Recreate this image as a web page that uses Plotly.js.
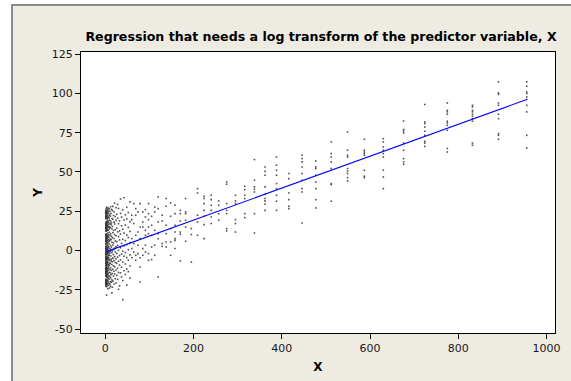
<!DOCTYPE html>
<html>
<head>
<meta charset="utf-8">
<script src="https://cdn.plot.ly/plotly-3.0.1.min.js"></script>
<style>
  html, body { margin: 0; padding: 0; background: #ffffff; }
  #frame { position: absolute; left: 11px; top: 4px; width: 600px; height: 420px;
           background: #EEEBE2; border-left: 2px solid #8a8a8a; border-top: 2px solid #8a8a8a; }
  #chart { position: absolute; left: 0; top: 0; width: 571px; height: 381px; }
</style>
</head>
<body>
<div id="frame"></div>
<div id="chart"></div>
<script>
const colX = [955, 891, 832, 775, 724, 676, 630, 587, 549, 512, 477, 446, 416, 388, 362, 338,
  316, 295, 275, 257, 240, 224, 209, 195, 182, 170, 158, 148, 138, 129, 120, 112, 105, 98, 91, 85,
  79, 74, 69, 64.6, 60,
  56.0, 52.2, 48.7, 45.5, 42.4, 39.6, 36.9, 34.5, 32.2, 30.0, 28.0, 26.1, 24.4, 22.7, 21.2, 19.8,
  18.5, 17.2, 16.1, 15.0, 14.0, 13.1, 12.2, 11.4, 10.6, 9.9, 9.24, 8.62, 8.04, 7.50, 7.00, 6.53,
  6.09, 5.69, 5.30, 4.95, 4.62, 4.31, 4.02, 3.75, 3.50, 3.26, 3.05, 2.84, 2.65, 2.47, 2.31, 2.15,
  2.01, 1.87, 1.75, 1.63, 1.52, 1.42, 1.32, 1.24, 1.15, 1.08, 1.0];

const colY = [
  [107.3, 104.5, 100.9, 99.9, 97.7, 96.1, 92.4, 88.2, 73.3, 65.3],
  [107.3, 100.3, 99.4, 93.9, 92.4, 86.7, 83.9, 74.4, 73.3, 70.8],
  [92.4, 91.3, 89.2, 88.2, 86.7, 85.4, 83.9, 82.3, 68.4, 67.0],
  [93.9, 89.2, 88.2, 86.7, 82.3, 81.2, 79.7, 76.5, 64.9, 62.7],
  [92.9, 81.8, 80.8, 78.6, 75.9, 73.3, 69.5, 68.4, 66.3],
  [82.4, 77.0, 76.1, 74.8, 68.4, 63.8, 58.5, 56.4, 54.9],
  [71.2, 69.1, 65.9, 63.8, 61.7, 59.5, 51.1, 46.8, 39.4],
  [70.8, 63.8, 62.7, 61.7, 60.6, 51.1, 47.3, 46.4],
  [75.4, 63.8, 60.6, 59.5, 52.2, 50.6, 49.0, 46.4, 44.3],
  [69.1, 61.7, 59.5, 56.4, 52.2, 42.6, 42.0, 31.4],
  [57.0, 53.2, 52.2, 47.9, 43.6, 39.4, 32.4, 27.1],
  [60.6, 58.5, 56.4, 53.2, 49.0, 44.7, 39.4, 37.3, 17.6],
  [49.0, 45.8, 36.6, 32.4, 28.2, 26.7],
  [59.5, 54.3, 51.1, 47.9, 42.6, 39.4, 35.2, 31.4, 25.6],
  [53.2, 50.4, 47.9, 40.5, 35.8, 33.1, 31.6, 29.5, 25.6],
  [57.9, 44.7, 40.5, 39.0, 37.3, 23.5, 11.2],
  [40.9, 38.8, 35.2, 33.1, 23.5, 21.0],
  [35.2, 31.6, 29.9, 19.7, 17.2, 11.8],
  [43.6, 42.2, 29.9, 25.6, 23.5, 14.0, 12.5],
  [31.6, 28.8, 23.5, 19.3],
  [35.2, 32.4, 28.8, 25.6, 21.4, 17.2],
  [34.5, 33.1, 29.9, 25.6, 21.8, 16.5, 7.6],
  [39.4, 36.6, 22.5, 18.2, 9.7],
  [14.0, 10.2, -7.3],
  [33.1, 24.6, 23.5, 19.3, 15.0, 5.9],
  [25.6, 23.5, 18.8, 11.8, 10.4, -6.6],
  [28.8, 23.5, 16.1, 11.8, 7.6, 6.5, 1.3],
  [30.3, 21.8, 14.0, 5.5, -3.0],
  [33.1, 28.2, 16.1, 10.8, 5.5, 2.3],
  [22.5, 18.8, 4.5, 2.7],
  [34.1, 26.7, 18.2, 10.8, 7.6, -16.8],
  [27.7, 24.6, 12.9, 3.4, -3.0],
  [21.8, 16.1, 9.7, 2.3, -5.7],
  [29.9, 23.5, 19.7, 15.0, 10.8, -1.9, -6.2],
  [26.1, 21.4, 12.9, 9.7, 3.4, -0.9],
  [24.6, 18.2, 15.0, 1.3, -3.0],
  [29.9, 15.0, 7.6, -4.5, -10.4, -20.0],
  [24.6, 11.8, 3.4, -1.9],
  [26.7, 22.5, 9.7, -3.0, -6.2],
  [29.9, 17.2, 4.5, -0.9],
  [22.5, 19.7, 7.6, 1.3, -4.5],
  [31.0, 18.4, 12.2, 5.1, -2.7, -9.8, -17.5],
  [24.2, 14.7, 8.3, 0.6, -6.1, -13.4],
  [27.5, 20.1, 9.9, 3.8, -4.4, -11.7, -21.9],
  [22.8, 16.3, 6.4, -1.2, -8.5, -15.2],
  [33.6, 19.5, 11.1, 2.9, -3.6, -12.8],
  [25.9, 13.6, 7.2, -0.4, -7.3, -19.1, -31.2],
  [21.3, 15.8, 4.6, -2.2, -10.6, -16.7],
  [32.8, 23.7, 10.5, 1.8, -5.9, -14.1],
  [18.9, 12.5, 6.8, -3.1, -9.2, -22.4],
  [26.8, 17.1, 8.9, 0.2, -6.8, -13.9, -24.6],
  [29.4, 20.6, 11.9, 3.3, -4.1, -11.2, -18.3],
  [23.1, 14.2, 5.7, -1.8, -8.1, -15.7],
  [27.3, 19.2, 9.4, 2.4, -5.2, -12.3, -20.6],
  [21.7, 13.3, 6.1, -0.9, -7.6, -17.9],
  [30.2, 16.9, 10.2, 1.5, -3.9, -10.4, -14.8],
  [24.7, 18.1, 7.7, 0.8, -6.4, -13.1, -21.2],
  [22.3, 12.8, 4.9, -2.6, -9.7, -16.2],
  [28.1, 19.9, 11.4, 3.6, -4.8, -11.9, -19.4],
  [25.5, 15.4, 8.2, -0.2, -7.1, -14.6, -23.3],
  [20.4, 13.9, 5.3, -1.4, -8.8, -18.6, -26.9],
  [26.2, 17.6, 9.1, 2.1, -5.5, -12.6, -20.1],
  [23.6, 16.4, 6.9, 0.4, -6.7, -15.3],
  [27.9, 18.8, 10.7, 3.1, -3.4, -10.9, -17.2, -22.8],
  [21.9, 14.5, 7.4, -0.7, -8.3, -14.2, -19.8],
  [24.9, 17.3, 9.8, 1.2, -5.7, -12.1, -21.5],
  [22.6, 15.1, 6.3, -1.6, -7.9, -16.4],
  [26.5, 19.4, 11.6, 4.2, -2.9, -9.5, -18.1, -23.8],
  [20.8, 13.7, 5.9, -0.3, -6.2, -13.8],
  [25.1, 16.7, 8.6, 1.9, -4.6, -11.4, -20.7],
  [23.4, 14.9, 7.1, -1.1, -8.7, -15.9, -22.1],
  [27.1, 18.3, 10.1, 2.7, -3.2, -10.2, -17.6],
  [21.4, 12.9, 4.8, -2.4, -9.1, -14.9],
  [24.3, 17.8, 9.3, 0.9, -5.4, -12.7, -19.6],
  [22.1, 15.6, 6.6, -1.3, -7.4, -16.9, -24.2],
  [26.4, 19.1, 11.2, 3.4, -4.2, -11.5, -18.8],
  [20.2, 13.4, 5.5, -0.5, -6.9, -14.4],
  [25.7, 16.2, 8.1, 1.6, -5.1, -12.4, -20.9],
  [23.9, 14.6, 7.9, -0.8, -8.2, -15.6, -21.7],
  [21.1, 17.4, 9.6, 2.2, -3.8, -10.7, -17.1],
  [24.5, 12.6, 4.4, -2.1, -9.4, -13.6, -22.6],
  [22.9, 15.9, 8.8, 0.3, -6.6, -12.9, -19.2],
  [27.6, 18.6, 10.4, 1.1, -4.9, -11.1, -18.4],
  [20.6, 14.1, 6.2, -1.9, -7.8, -15.1, -28.3],
  [23.2, 16.6, 7.6, 0.7, -5.8, -13.2, -20.3],
  [25.3, 13.1, 5.1, -2.8, -8.9, -16.6],
  [21.6, 17.7, 9.2, 2.5, -4.3, -10.1, -21.1],
  [24.1, 14.8, 6.7, -0.6, -7.2, -14.7, -18.9],
  [22.4, 16.1, 8.4, 1.4, -5.3, -12.2, -22.9],
  [26.7, 12.3, 4.1, -1.7, -9.6, -15.5],
  [20.9, 15.3, 7.3, 0.1, -6.3, -11.8, -19.7],
  [23.8, 17.2, 9.7, 2.8, -4.7, -13.5, -20.4],
  [21.2, 13.8, 5.6, -2.3, -8.4, -16.3],
  [24.8, 16.8, 8.7, 1.3, -5.6, -12.5, -21.4],
  [22.2, 14.3, 6.5, -1.0, -7.7, -14.3, -18.2],
  [25.6, 18.2, 10.6, 2.6, -3.7, -10.8, -20.2],
  [20.3, 12.7, 4.3, -2.5, -9.3, -15.8],
  [23.5, 15.7, 7.8, 0.5, -6.5, -13.3, -22.2],
  [21.8, 17.0, 9.5, 1.7, -4.5, -11.6, -19.3],
  [24.0, 14.4, 6.0, -1.5, -8.0, -14.0, -21.0]
];

// fitted regression line end points
const lineX = [1, 955];
const lineY = [-0.8, 96.1];

const xTickVals = [0, 200, 400, 600, 800, 1000];
const yTickVals = [-50, -25, 0, 25, 50, 75, 100, 125];
const yTickText = ['-50', '-25', '0', '25', '50', '75', '100', '125'];

const ptsX = [], ptsY = [];
colX.forEach((xv, i) => colY[i].forEach(yv => { ptsX.push(xv); ptsY.push(yv); }));

const tickFont = { family: 'DejaVu Sans, Verdana, sans-serif', size: 11, color: '#1a1a1a' };
const titleFont = { family: 'DejaVu Sans, Verdana, sans-serif', size: 12.6, color: '#000', weight: 'bold' };
const axTitleFont = { family: 'DejaVu Sans, Verdana, sans-serif', size: 12, color: '#000', weight: 'bold' };

const data = [
  { type: 'scatter', mode: 'markers', x: ptsX, y: ptsY,
    marker: { symbol: 'square', size: 1.6, color: '#333333', opacity: 0.85, line: { width: 0 } },
    hoverinfo: 'x+y', showlegend: false },
  { type: 'scatter', mode: 'lines', x: lineX, y: lineY,
    line: { color: '#0000FF', width: 1.1 }, showlegend: false }
];

const layout = {
  width: 571, height: 381,
  paper_bgcolor: 'rgba(0,0,0,0)', plot_bgcolor: '#ffffff',
  margin: { l: 81, r: 16, t: 52, b: 48 },
  title: { text: '<b>Regression that needs a log transform of the predictor variable, X</b>',
           font: titleFont, xref: 'container', x: 321 / 571, xanchor: 'center',
           yref: 'container', y: 1 - 36.5 / 381, yanchor: 'middle' },
  xaxis: { range: [-55, 1019], tickvals: xTickVals, ticks: 'outside', ticklen: 5, tickwidth: 1,
           tickcolor: '#000', showline: true, linecolor: '#000', linewidth: 1, mirror: true,
           showgrid: false, zeroline: false, tickfont: tickFont, automargin: false,
           title: { text: '<b>X</b>', font: axTitleFont, standoff: 8 } },
  yaxis: { range: [-52.4, 126.3], tickvals: yTickVals, ticktext: yTickText, ticks: 'outside',
           ticklen: 5, tickwidth: 1, tickcolor: '#000', showline: true, linecolor: '#000',
           linewidth: 1, mirror: true, showgrid: false, zeroline: false, tickfont: tickFont,
           automargin: false, title: { text: '<b>Y</b>', font: axTitleFont, standoff: 6 } },
  showlegend: false
};

Plotly.newPlot('chart', data, layout, { displayModeBar: false, staticPlot: true });
</script>
</body>
</html>
